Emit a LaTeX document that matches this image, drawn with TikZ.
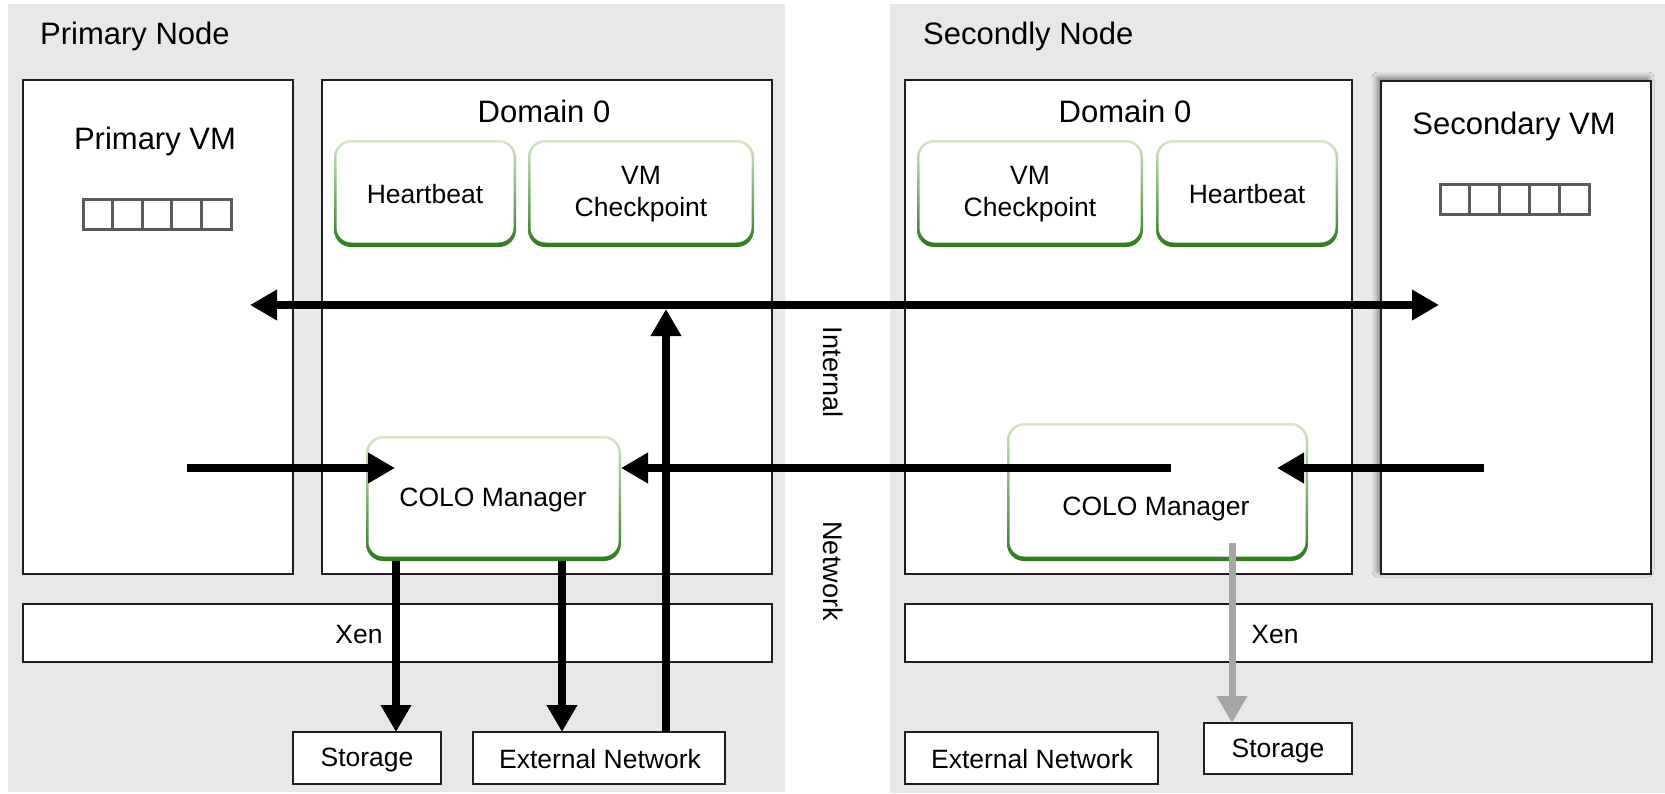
\documentclass[tikz,border=0pt]{standalone}
\usepackage{fontspec}
\setmainfont{Liberation Sans}
\usetikzlibrary{arrows.meta,shadows.blur,calc}
\definecolor{panel}{HTML}{E8E8E8}
\definecolor{gtop}{HTML}{D6E8C8}
\definecolor{gbot}{HTML}{2E7A1E}
\definecolor{regc}{HTML}{5A5A5A}
\definecolor{garr}{HTML}{A6A6A6}
\definecolor{bord}{HTML}{1E1E1E}
\begin{document}
\begin{tikzpicture}[x=1pt,y=-1pt,
  panelbox/.style={fill=panel, draw=none, anchor=north west, inner sep=0, outer sep=0},
  wbox/.style={fill=white, draw=bord, line width=2pt, anchor=north west, inner sep=0, outer sep=0},
  gout/.style={top color=gtop, bottom color=gbot, draw=none, rounded corners=17pt, anchor=north west, inner sep=0, outer sep=0},
  gin/.style={fill=white, draw=none, rounded corners=15pt, anchor=north west, inner sep=0, outer sep=0},
  ttext/.style={font=\fontsize{31}{36}\selectfont, inner sep=0},
  btext/.style={font=\fontsize{26.5}{32}\selectfont, inner sep=0, align=center},
  rtext/.style={font=\fontsize{27}{32}\selectfont, inner sep=0, rotate=-90},
  reg/.style={draw=regc, line width=3pt},
  arr/.style={line width=8pt, -{Triangle[length=27pt,width=29pt]}},
  darr/.style={line width=8pt, {Triangle[length=27pt,width=29pt]}-{Triangle[length=27pt,width=29pt]}},
  garrow/.style={draw=garr, line width=7pt, -{Triangle[length=27pt,width=29pt]}}
]
\useasboundingbox (0,0) rectangle (1665,793);
\fill[white] (0,0) rectangle (1665,793);

% panels
\node[panelbox, minimum width=777pt, minimum height=788pt] (pL) at (8,4) {};
\node[panelbox, minimum width=775pt, minimum height=789pt] (pR) at (890,4) {};
\node[ttext, anchor=west] (tL) at (40,36) {Primary Node};
\node[ttext, anchor=west] (tR) at (923,36) {Secondly Node};

% primary side boxes
\node[wbox, minimum width=270pt, minimum height=494pt] (pvm) at (23,80) {};
\node[ttext] (pvmT) at (155,141) {Primary VM};
\node[wbox, minimum width=450pt, minimum height=494pt] (d0L) at (322,80) {};
\node[ttext] (d0LT) at (544,111) {Domain 0};
\node[wbox, minimum width=749pt, minimum height=58pt] (xenL) at (23,604) {};
\node[btext] (xenLT) at (359,635) {Xen};
\node[wbox, minimum width=148pt, minimum height=52pt] (stoL) at (293,732) {};
\node[btext] (stoLT) at (367,760) {Storage};
\node[wbox, minimum width=252pt, minimum height=52pt] (extL) at (473,732) {};
\node[btext] (extLT) at (600,759) {External Network};

% secondary side boxes
\node[wbox, minimum width=447pt, minimum height=494pt] (d0R) at (905,80) {};
\node[ttext] (d0RT) at (1125,111) {Domain 0};
\node[wbox, minimum width=270pt, minimum height=493pt,
  blur shadow={shadow xshift=-3pt, shadow yshift=3pt, shadow blur radius=6pt, shadow opacity=55}] (svm) at (1381,81) {};
\node[ttext] (svmT) at (1514,126) {Secondary VM};
\node[wbox, minimum width=747pt, minimum height=58pt] (xenR) at (905,604) {};
\node[btext] (xenRT) at (1275,635) {Xen};
\node[wbox, minimum width=253pt, minimum height=52pt] (extR) at (905,732) {};
\node[btext] (extRT) at (1032,759) {External Network};
\node[wbox, minimum width=148pt, minimum height=51pt] (stoR) at (1204,723) {};
\node[btext] (stoRT) at (1278,751) {Storage};

% registers
\foreach \i in {0,...,4} {
  \draw[reg] ({83+\i*29.6},199) rectangle ({83+(\i+1)*29.6},229);
  \draw[reg] ({1440+\i*29.8},184) rectangle ({1440+(\i+1)*29.8},214);
}

% green boxes
\node[gout, minimum width=182pt, minimum height=107pt] (hbL) at (334,140) {};
\node[gin, minimum width=177pt, minimum height=100pt] (hbLi) at (336.5,142.5) {};
\node[btext] (hbLT) at (425,194) {Heartbeat};
\node[gout, minimum width=226pt, minimum height=107pt] (vcL) at (528,140) {};
\node[gin, minimum width=221pt, minimum height=100pt] (vcLi) at (530.5,142.5) {};
\node[btext] (vcLT) at (641,194) {VM\\Checkpoint};
\node[gout, minimum width=226pt, minimum height=107pt] (vcR) at (917,140) {};
\node[gin, minimum width=221pt, minimum height=100pt] (vcRi) at (919.5,142.5) {};
\node[btext] (vcRT) at (1030,194) {VM\\Checkpoint};
\node[gout, minimum width=182pt, minimum height=107pt] (hbR) at (1156,140) {};
\node[gin, minimum width=177pt, minimum height=100pt] (hbRi) at (1158.5,142.5) {};
\node[btext] (hbRT) at (1247,194) {Heartbeat};
\node[gout, minimum width=255pt, minimum height=125pt] (coloL) at (366,436) {};
\node[gin, minimum width=250pt, minimum height=118pt] (coloLi) at (368.5,438.5) {};
\node[btext] (coloLT) at (493,500) {COLO Manager};
\node[gout, minimum width=301pt, minimum height=138pt] (coloR) at (1007,423) {};
\node[gin, minimum width=296pt, minimum height=131pt] (coloRi) at (1009.5,425.5) {};
\node[btext] (coloRT) at (1156,509) {COLO Manager};

% network labels
\node[rtext] (netI) at (833,372) {Internal};
\node[rtext] (netN) at (833,571) {Network};

% connectors
\coordinate (hl) at (250,305);
\coordinate (hr) at (1439,305);
\coordinate (vtop) at (666,309);
\coordinate (inL) at (187,468);
\coordinate (inLtip) at (395,468);
\coordinate (fromR) at (1171,468);
\coordinate (inR) at (1484,468);
\coordinate (inRtip) at (1277,468);
\coordinate (gstart) at (1232,543);

\draw[darr] (hl) -- (hr);
\draw[arr] (extL.north -| vtop) -- (vtop);
\draw[arr] (inL) -- (inLtip);
\draw[arr] (fromR) -- (coloL.east |- fromR);
\draw[arr] (inR) -- (inRtip);
\draw[arr] (coloL.south -| 396,0) -- (stoL.north -| 396,0);
\draw[arr] (coloL.south -| 562,0) -- (extL.north -| 562,0);
\draw[garrow] (gstart) -- (stoR.north -| gstart);
\end{tikzpicture}
\end{document}
